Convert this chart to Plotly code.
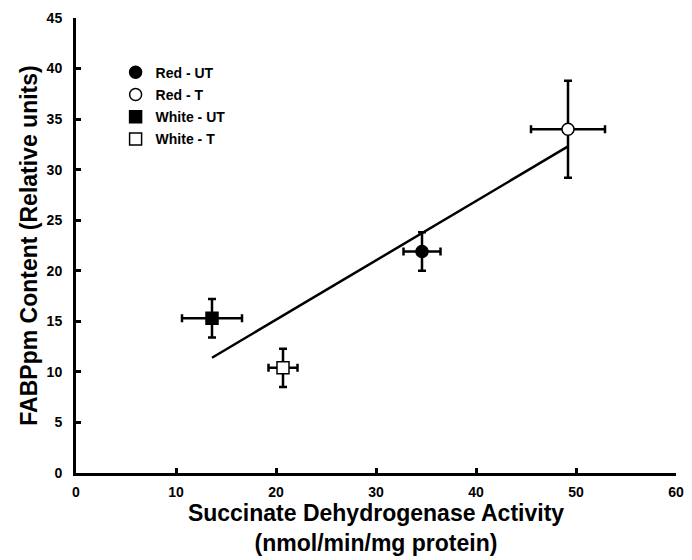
import plotly.graph_objects as go

# Data
groups = ["Red - UT", "Red - T", "White - UT", "White - T"]
sdh_activity = [34.6, 49.2, 13.6, 20.7]
sdh_err = [1.85, 3.7, 3.0, 1.45]
fabppm = [21.9, 34.0, 15.3, 10.4]
fabppm_err = [1.9, 4.8, 1.9, 1.9]
symbols = ["circle", "circle", "square", "square"]
fills = ["black", "white", "black", "white"]

# Regression line endpoints
line_x = [13.6, 49.2]
line_y = [11.4, 32.3]

x_ticks = [0, 10, 20, 30, 40, 50, 60]
y_ticks = [0, 5, 10, 15, 20, 25, 30, 35, 40, 45]

FONT = "Arial, Liberation Sans, Helvetica, sans-serif"

fig = go.Figure()

fig.add_trace(go.Scatter(
    x=line_x, y=line_y, mode="lines",
    line=dict(color="black", width=2.5),
    showlegend=False, hoverinfo="skip",
))

for i, g in enumerate(groups):
    fig.add_trace(go.Scatter(
        x=[sdh_activity[i]], y=[fabppm[i]],
        mode="markers", name=g, legendgroup=g,
        marker=dict(symbol=symbols[i], size=12, color=fills[i],
                    line=dict(color="black", width=1.5)),
        error_x=dict(type="data", array=[sdh_err[i]], color="black",
                     thickness=2.5, width=4),
        error_y=dict(type="data", array=[fabppm_err[i]], color="black",
                     thickness=2.5, width=4),
    ))

fig.update_layout(
    width=692, height=560,
    margin=dict(l=76, r=16, t=18, b=87),
    paper_bgcolor="white", plot_bgcolor="white",
    font=dict(family=FONT, color="black", size=12),
    showlegend=True,
    legend=dict(
        x=0.066, y=0.915, xanchor="left", yanchor="top",
        bgcolor="rgba(0,0,0,0)", borderwidth=0,
        font=dict(family=FONT, size=14, color="black", weight="bold"),
        tracegroupgap=1, itemwidth=30,
    ),
    xaxis=dict(
        range=[0, 60], tickvals=x_ticks, automargin=False,
        ticks="inside", ticklen=5, tickwidth=2.5, tickcolor="black",
        showline=True, linewidth=3, linecolor="black",
        showgrid=False, zeroline=False, ticklabelstandoff=4,
        tickfont=dict(family=FONT, size=14, weight="bold"),
        title=dict(text="Succinate Dehydrogenase Activity<br>(nmol/min/mg protein)",
                   font=dict(family=FONT, size=23, weight="bold"), standoff=5),
    ),
    yaxis=dict(
        range=[0, 45], tickvals=y_ticks, automargin=False,
        ticks="inside", ticklen=5, tickwidth=2.5, tickcolor="black",
        showline=True, linewidth=3, linecolor="black",
        showgrid=False, zeroline=False, ticklabelstandoff=8,
        tickfont=dict(family=FONT, size=14, weight="bold"),
        title=dict(text="FABPpm Content (Relative units)",
                   font=dict(family=FONT, size=23, weight="bold"), standoff=3),
    ),
)

fig.write_html(
    "out.html",
    config={"displayModeBar": False},
    post_script="document.body.style.margin='0';document.body.style.overflow='hidden';",
)
